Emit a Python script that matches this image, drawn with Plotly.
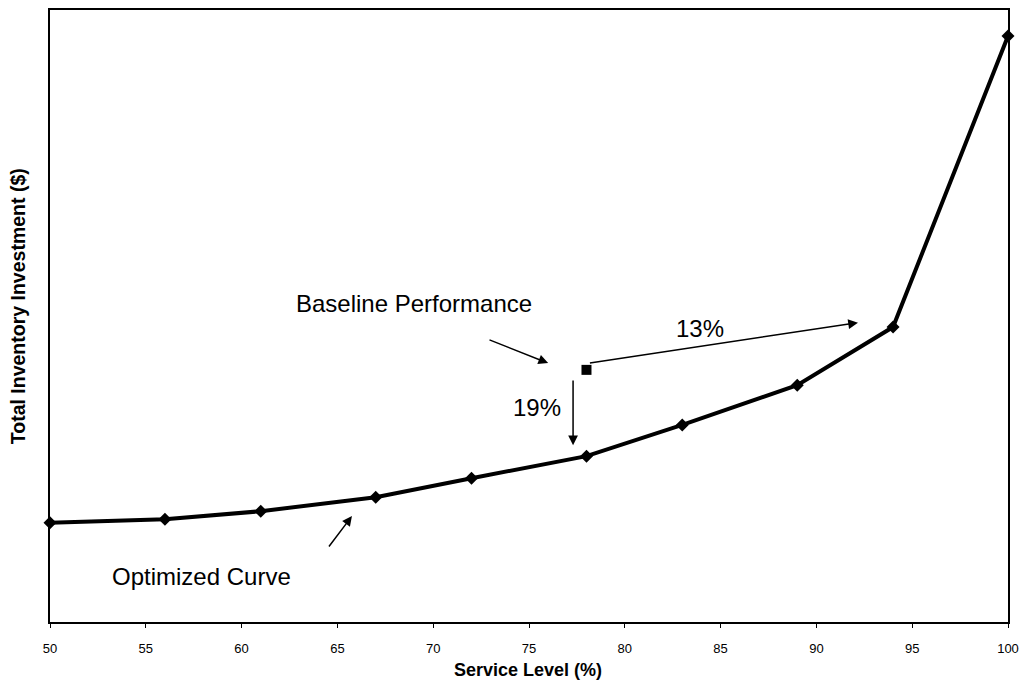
import plotly.graph_objects as go

service_level = [50, 56, 61, 67, 72, 78, 83, 89, 94, 100]
inventory = [16.2, 16.8, 18.1, 20.4, 23.5, 27.1, 32.2, 38.7, 48.2, 95.75]
baseline_x = [78]
baseline_y = [41.2]
x_ticks = [50, 55, 60, 65, 70, 75, 80, 85, 90, 95, 100]

FONT = "Arial, Liberation Sans, sans-serif"

fig = go.Figure()
fig.add_trace(go.Scatter(
    x=service_level, y=inventory, mode="lines+markers",
    line=dict(color="black", width=4),
    marker=dict(symbol="diamond", size=10, color="black"),
    showlegend=False, cliponaxis=False,
))
fig.add_trace(go.Scatter(
    x=baseline_x, y=baseline_y, mode="markers",
    marker=dict(symbol="square", size=10, color="black"),
    showlegend=False,
))

arrow = dict(showarrow=True, arrowhead=2, arrowsize=1.3, arrowwidth=1.5,
             arrowcolor="black", axref="x", ayref="y", text="")
fig.add_annotation(x=76.0, y=42.3, ax=72.86, ay=46.2, **arrow)
fig.add_annotation(x=92.17, y=48.9, ax=78.1, ay=42.3, **arrow)
fig.add_annotation(x=77.3, y=28.9, ax=77.3, ay=39.7, **arrow)
fig.add_annotation(x=65.76, y=17.3, ax=64.5, ay=12.1, **arrow)

txt = dict(showarrow=False, font=dict(family=FONT, size=24, color="black"))
fig.add_annotation(x=69.0, y=52.1, text="Baseline Performance", **txt)
fig.add_annotation(x=83.9, y=47.9, text="13%", **txt)
fig.add_annotation(x=75.4, y=35.0, text="19%", **txt)
fig.add_annotation(x=57.9, y=7.5, text="Optimized Curve", **txt)

# axis titles as annotations for exact placement
fig.add_annotation(x=0, xref="paper", y=0.516, yref="paper", xanchor="center",
                   yanchor="middle", xshift=-32, textangle=-90, showarrow=False,
                   text="<b>Total Inventory Investment ($)</b>",
                   font=dict(family=FONT, size=19.5, color="black"))
fig.add_annotation(x=0.499, xref="paper", y=0, yref="paper", xanchor="center",
                   yanchor="middle", yshift=-48, showarrow=False,
                   text="<b>Service Level (%)</b>",
                   font=dict(family=FONT, size=18, color="black"))

fig.update_layout(
    width=1023, height=681,
    margin=dict(l=50, r=15, t=10, b=59, autoexpand=False),
    plot_bgcolor="white", paper_bgcolor="white",
    font=dict(family=FONT, color="black"),
    xaxis=dict(
        range=[50, 100], tickvals=x_ticks, ticks="outside", ticklen=4,
        tickcolor="black", showgrid=False, zeroline=False, automargin=False,
        showline=True, linecolor="black", linewidth=2, mirror=True,
        tickfont=dict(size=13), ticklabelstandoff=9,
    ),
    yaxis=dict(
        range=[0, 100], showticklabels=False, ticks="", showgrid=False,
        zeroline=False, showline=True, linecolor="black", linewidth=2, mirror=True,
        automargin=False,
    ),
)

fig.write_html("out.html")
